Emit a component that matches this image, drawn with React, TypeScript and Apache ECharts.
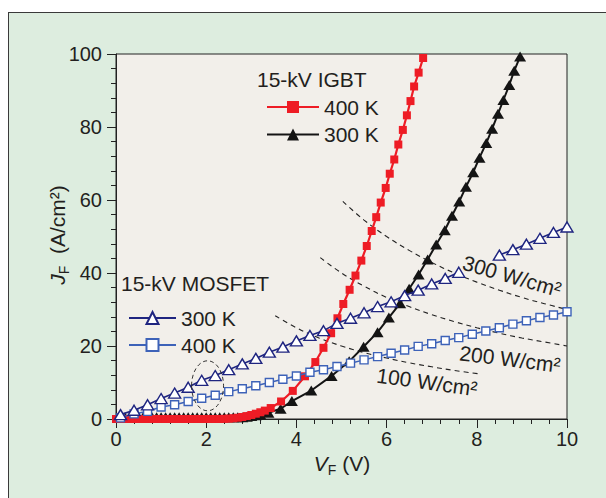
import React, { useEffect, useRef } from 'react';
import * as echarts from 'echarts';

// ---------- data (V in volts, J in A/cm²) ----------
const IGBT400_V = [0, 0.1, 0.2, 0.3, 0.4, 0.5, 0.6, 0.7, 0.8, 0.9, 1.0, 1.1, 1.2, 1.3, 1.4, 1.5, 1.6, 1.7, 1.8, 1.9, 2.0, 2.1, 2.2, 2.3, 2.4, 2.5, 2.6, 2.7, 2.8, 2.9, 3.0, 3.1, 3.2, 3.3, 3.43, 3.66, 3.92, 4.19, 4.42, 4.6, 4.77, 4.91, 5.04, 5.18, 5.31, 5.44, 5.56, 5.67, 5.77, 5.87, 5.98, 6.07, 6.17, 6.26, 6.36, 6.45, 6.53, 6.61, 6.71, 6.81];
const IGBT400_J = [0, 0, 0, 0, 0, 0, 0, 0, 0, 0, 0, 0, 0, 0, 0, 0, 0, 0, 0, 0, 0, 0, 0, 0, 0.05, 0.1, 0.2, 0.35, 0.55, 0.8, 1.1, 1.45, 1.85, 2.3, 3.0, 4.8, 7.7, 11.7, 15.6, 19.5, 23.5, 27.6, 31.5, 35.4, 39.3, 43.4, 47.4, 51.5, 55.3, 59.3, 63.3, 67.2, 71.1, 75.2, 79.2, 83.2, 87.1, 91.1, 94.9, 98.9];

const IGBT300_V = [0.1, 0.2, 0.3, 0.4, 0.5, 0.6, 0.7, 0.8, 0.9, 1.0, 1.1, 1.2, 1.3, 1.4, 1.5, 1.6, 1.7, 1.8, 1.9, 2.0, 2.1, 2.2, 2.3, 2.4, 2.5, 2.6, 2.7, 2.8, 2.9, 3.0, 3.1, 3.2, 3.38, 3.65, 3.9, 4.33, 4.78, 5.17, 5.49, 5.8, 6.05, 6.3, 6.5, 6.71, 6.91, 7.1, 7.29, 7.45, 7.61, 7.76, 7.92, 8.06, 8.21, 8.34, 8.47, 8.59, 8.72, 8.83, 8.96];
const IGBT300_J = [0.5, 0.5, 0.5, 0.5, 0.5, 0.5, 0.5, 0.5, 0.5, 0.5, 0.5, 0.5, 0.5, 0.5, 0.5, 0.5, 0.5, 0.5, 0.5, 0.5, 0.5, 0.5, 0.5, 0.5, 0.5, 0.5, 0.5, 0.5, 0.6, 0.8, 1.0, 1.2, 1.7, 2.8, 4.9, 7.8, 11.8, 15.8, 19.8, 23.8, 27.8, 31.7, 35.7, 39.6, 43.7, 47.8, 51.7, 55.7, 59.6, 63.6, 67.6, 71.6, 75.6, 79.5, 83.6, 87.4, 91.5, 95.4, 99.3];

// MOSFET 300 K (the curve is interrupted between 7.6 V and 8.5 V)
const MOS300_V_A = [0.1, 0.4, 0.7, 1.0, 1.3, 1.6, 1.9, 2.2, 2.5, 2.8, 3.1, 3.4, 3.7, 4.0, 4.3, 4.6, 4.9, 5.2, 5.5, 5.8, 6.1, 6.4, 6.7, 7.0, 7.3, 7.6];
const MOS300_J_A = [1.2, 2.4, 3.9, 5.6, 7.1, 8.7, 10.6, 11.9, 13.5, 15.1, 16.6, 18.3, 19.7, 21.4, 22.9, 24.2, 26.2, 27.6, 29.1, 30.8, 32.1, 33.8, 35.3, 37.0, 38.5, 40.2];
const MOS300_V_B = [8.5, 8.8, 9.1, 9.4, 9.7, 10.0];
const MOS300_J_B = [44.9, 46.4, 47.9, 49.5, 51.1, 52.6];

const MOS400_V = [0.1, 0.4, 0.7, 1.0, 1.3, 1.6, 1.9, 2.2, 2.5, 2.8, 3.1, 3.4, 3.7, 4.0, 4.3, 4.6, 4.9, 5.2, 5.5, 5.8, 6.1, 6.4, 6.7, 7.0, 7.3, 7.6, 7.9, 8.2, 8.5, 8.8, 9.1, 9.4, 9.7, 10.0];
const MOS400_J = [0.3, 1.4, 2.1, 3.3, 3.9, 4.8, 5.7, 6.5, 7.5, 8.3, 9.1, 10.0, 10.9, 11.8, 12.8, 13.5, 14.4, 15.3, 16.2, 17.1, 18.0, 18.9, 19.9, 20.6, 21.5, 22.3, 23.2, 24.1, 25.0, 26.0, 26.9, 27.8, 28.5, 29.4];

// constant-power dissipation lines
const P100_V = [3.53, 4, 4.5, 5, 5.5, 6, 6.5, 7, 7.5, 8.04];
const P100_J = [28.3, 25, 22.2, 20, 18.2, 16.7, 15.4, 14.3, 13.3, 12.4];
const P200_V = [4.53, 5, 5.5, 6, 6.5, 7, 7.5, 8, 8.5, 9, 9.5, 10];
const P200_J = [44.2, 40, 36.4, 33.3, 30.8, 28.6, 26.7, 25, 23.5, 22.2, 21.1, 20];
const P300_V = [5.03, 5.5, 6, 6.5, 7, 7.5, 8, 8.5, 9, 9.5, 10];
const P300_J = [59.6, 54.5, 50, 46.2, 42.9, 40, 37.5, 35.3, 33.3, 31.6, 30];

const X_TICKS = ['0', '2', '4', '6', '8', '10'];
const Y_TICKS = ['0', '20', '40', '60', '80', '100'];

const SERIES_NAMES = ['IGBT 400 K', 'IGBT 300 K', 'MOSFET 300 K', 'MOSFET 400 K'];
const POWER_LABELS = ['100 W/cm²', '200 W/cm²', '300 W/cm²'];
const GROUP_LABELS = ['15-kV IGBT', '15-kV MOSFET'];

const zip = (v: number[], j: number[]) => v.map((x, i) => [x, j[i]]);

const RED = '#ee1c25';
const BLACK = '#141414';
const NAVY = '#1f2580';
const BLUE = '#3d62b8';
const TXT = '#231f20';
const FONT = '"Liberation Sans", Arial, Helvetica, sans-serif';

export default function App() {
  const ref = useRef<HTMLDivElement>(null);

  useEffect(() => {
    document.body.style.margin = '0';
    const chart = echarts.init(ref.current!, null, { renderer: 'svg' });

    const legendCommon = {
      orient: 'horizontal',
      padding: 0,
      itemHeight: 15,
      selectedMode: false,
      textStyle: { fontSize: 21, color: TXT, fontFamily: FONT },
      formatter: (n: string) => n.replace(/^\S+\s/, ''),
    };

    const powerLine = (name: string, v: number[], j: number[]) => ({
      name,
      type: 'line',
      data: zip(v, j),
      symbol: 'none',
      smooth: 0.4,
      silent: true,
      lineStyle: { color: '#222', width: 1.1, type: [5, 4] },
      z: 1,
    });

    const option: any = {
      animation: false,
      backgroundColor: 'transparent',
      textStyle: { fontFamily: FONT },
      grid: {
        left: 116,
        right: 39,
        top: 54,
        bottom: 79,
        show: true,
        backgroundColor: '#f2efea',
        borderColor: '#222',
        borderWidth: 1,
        outerBoundsMode: 'none',
      },
      legend: [
        { ...legendCommon, data: [SERIES_NAMES[0]], left: 266, top: 96.5, itemWidth: 52 },
        { ...legendCommon, data: [SERIES_NAMES[1]], left: 266, top: 124, itemWidth: 52 },
        { ...legendCommon, data: [SERIES_NAMES[2]], left: 128, top: 307.5, itemWidth: 47 },
        { ...legendCommon, data: [SERIES_NAMES[3]], left: 128, top: 334.5, itemWidth: 47 },
      ],
      xAxis: {
        type: 'value',
        min: 0,
        max: 10,
        interval: 2,
        axisLine: { show: true, lineStyle: { color: '#222', width: 1 } },
        axisTick: { show: true, inside: false, length: 9, lineStyle: { color: '#222' } },
        minorTick: { show: true, splitNumber: 5, length: 5, lineStyle: { color: '#222' } },
        splitLine: { show: false },
        axisLabel: {
          fontSize: 20,
          color: TXT,
          margin: 10,
          formatter: (v: number) => X_TICKS[Math.round(v / 2)] ?? String(v),
        },
      },
      yAxis: {
        type: 'value',
        min: 0,
        max: 100,
        interval: 20,
        axisLine: { show: true, lineStyle: { color: '#222', width: 1 } },
        axisTick: { show: true, inside: false, length: 9, lineStyle: { color: '#222' } },
        minorTick: { show: true, splitNumber: 5, length: 5, lineStyle: { color: '#222' } },
        splitLine: { show: false },
        axisLabel: {
          fontSize: 20,
          color: TXT,
          margin: 14,
          formatter: (v: number) => Y_TICKS[Math.round(v / 20)] ?? String(v),
        },
      },
      series: [
        powerLine(POWER_LABELS[0], P100_V, P100_J),
        powerLine(POWER_LABELS[1], P200_V, P200_J),
        powerLine(POWER_LABELS[2], P300_V, P300_J),
        {
          name: SERIES_NAMES[1],
          type: 'line',
          data: zip(IGBT300_V, IGBT300_J),
          symbol: 'triangle',
          symbolSize: [12, 10],
          itemStyle: { color: BLACK },
          lineStyle: { color: BLACK, width: 2 },
          z: 2,
        },
        {
          name: SERIES_NAMES[0],
          type: 'line',
          data: zip(IGBT400_V, IGBT400_J),
          symbol: 'rect',
          symbolSize: 8,
          itemStyle: { color: RED },
          lineStyle: { color: RED, width: 2.2 },
          z: 3,
        },
        {
          name: SERIES_NAMES[3],
          type: 'line',
          data: zip(MOS400_V, MOS400_J),
          symbol: 'rect',
          symbolSize: 8,
          itemStyle: { color: '#fff', borderColor: BLUE, borderWidth: 1.4 },
          lineStyle: { color: BLUE, width: 1.5 },
          z: 4,
        },
        {
          name: SERIES_NAMES[2],
          type: 'line',
          data: [...zip(MOS300_V_A, MOS300_J_A), [8.05, '-'], ...zip(MOS300_V_B, MOS300_J_B)],
          symbol: 'triangle',
          symbolSize: [12, 10],
          itemStyle: { color: '#fff', borderColor: NAVY, borderWidth: 1.4 },
          lineStyle: { color: NAVY, width: 1.6 },
          z: 5,
        },
      ],
    };

    chart.setOption(option);

    const ell = chart.convertToPixel({ gridIndex: 0 }, [2.03, 9.1]) as number[];

    const rich = {
      i: { fontSize: 21, fontStyle: 'italic', lineHeight: 28, fontFamily: FONT, fill: TXT },
      s: { fontSize: 14, lineHeight: 14, verticalAlign: 'bottom', fontFamily: FONT, fill: TXT },
      n: { fontSize: 21, lineHeight: 28, fontFamily: FONT, fill: TXT },
    };

    const textEl = (text: string, x: number, y: number, rotation = 0, align = 'left') => ({
      type: 'text',
      x,
      y,
      rotation,
      z: 100,
      style: {
        text,
        fontSize: 21,
        fontFamily: FONT,
        fill: TXT,
        align,
        verticalAlign: 'middle',
      },
    });

    const deg = Math.PI / 180;

    chart.setOption({
      graphic: [
        textEl(GROUP_LABELS[0], 257, 79),
        textEl(GROUP_LABELS[1], 121, 283),
        textEl(POWER_LABELS[2], 512, 276, -16 * deg, 'center'),
        textEl(POWER_LABELS[1], 510, 359, -7 * deg, 'center'),
        textEl(POWER_LABELS[0], 427, 382, -8 * deg, 'center'),
        {
          type: 'text',
          x: 342,
          y: 463,
          z: 100,
          style: {
            text: '{i|V}{s|F}{n| (V)}',
            rich,
            align: 'center',
            verticalAlign: 'middle',
            fontFamily: FONT,
            fill: TXT,
          },
        },
        {
          type: 'text',
          x: 57,
          y: 235,
          rotation: Math.PI / 2,
          z: 100,
          style: {
            text: '{i|J}{s|F}{n|  (A/cm²)}',
            rich,
            align: 'center',
            verticalAlign: 'middle',
            fontFamily: FONT,
            fill: TXT,
          },
        },
        {
          type: 'ellipse',
          z: 100,
          shape: { cx: ell[0], cy: ell[1], rx: 16, ry: 25 },
          style: { fill: 'none', stroke: '#333', lineWidth: 1, lineDash: [4, 3] },
        },
      ],
    });

    return () => chart.dispose();
  }, []);

  return (
    <div style={{ position: 'relative', width: 606, height: 498, overflow: 'hidden', background: '#fff' }}>
      <div
        style={{
          position: 'absolute',
          left: 8,
          top: 12,
          width: 700,
          height: 600,
          background: '#ddeddf',
          border: '1px solid #3a3a3a',
        }}
      />
      <div ref={ref} style={{ position: 'absolute', left: 0, top: 0, width: 606, height: 498 }} />
    </div>
  );
}
